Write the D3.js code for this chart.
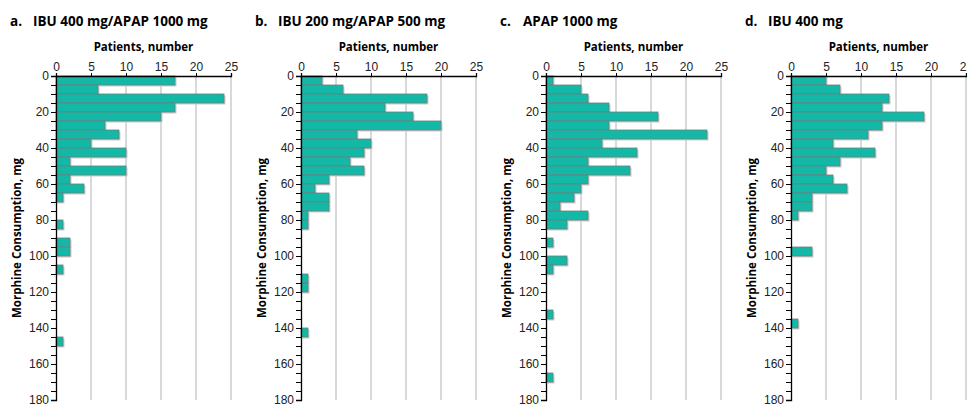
<!DOCTYPE html>
<html>
<head>
<meta charset="utf-8">
<script src="https://cdn.jsdelivr.net/npm/d3@7"></script>
<style>
  body { margin: 0; background: #fff; }
  svg { display: block; font-family: "Open Sans", "Noto Sans", sans-serif; }
</style>
</head>
<body>
<div id="chart"></div>
<script>
// bins of 5 mg, from 0 to 180 mg
const binStarts = d3.range(0, 180, 5);
const panelLetters = ["a.", "b.", "c.", "d."];
const panelTitles = ["IBU 400 mg/APAP 1000 mg", "IBU 200 mg/APAP 500 mg", "APAP 1000 mg", "IBU 400 mg"];
const xTicks = [0, 5, 10, 15, 20, 25];
const yTicks = d3.range(0, 181, 5);

// patients per 5 mg bin
const countsA = [17,6,24,17,15,7,9,5,10,2,10,2,4,1,0,0,1,0,2,2,0,1,0,0,0,0,0,0,0,1,0,0,0,0,0,0];
const countsB = [3,6,18,12,16,20,8,10,9,7,9,4,2,4,4,1,1,0,0,0,0,0,1,1,0,0,0,0,1,0,0,0,0,0,0,0];
const countsC = [1,5,6,9,16,9,23,8,13,6,12,6,5,4,2,6,3,0,1,0,3,1,0,0,0,0,1,0,0,0,0,0,0,1,0,0];
const countsD = [5,7,14,13,19,13,11,6,12,7,5,6,8,3,3,1,0,0,0,3,0,0,0,0,0,0,0,1,0,0,0,0,0,0,0,0];
const allCounts = [countsA, countsB, countsC, countsD];

const W = 967, H = 406;
const panelW = 245;
const margin = {top: 76, left: 56};
const plotW = 175, plotH = 324;

const svg = d3.select("#chart").append("svg")
    .attr("width", W)
    .attr("height", H);

const x = d3.scaleLinear().domain([0, 25]).range([0, plotW]);
const y = d3.scaleLinear().domain([0, 180]).range([0, plotH]);

allCounts.forEach((counts, p) => {
    const panel = svg.append("g")
        .attr("transform", "translate(" + (p * panelW) + ",0)");

    // title
    panel.append("text")
        .attr("x", 10).attr("y", 26)
        .style("font-size", "13.5px").style("font-weight", "bold")
        .text(panelLetters[p]);
    panel.append("text")
        .attr("x", 33).attr("y", 26)
        .style("font-size", "13.5px").style("font-weight", "bold")
        .text(panelTitles[p]);

    const g = panel.append("g")
        .attr("transform", "translate(" + margin.left + "," + margin.top + ")");

    // gridlines
    g.selectAll(".grid")
        .data(xTicks.slice(1))
        .join("line")
        .attr("x1", d => x(d)).attr("x2", d => x(d))
        .attr("y1", 0).attr("y2", plotH)
        .attr("stroke", "#aeb3b6").attr("stroke-width", 1);

    const data = binStarts.map((s, i) => ({start: s, n: counts[i]})).filter(d => d.n > 0);

    // shadow
    g.selectAll(".shadow")
        .data(data)
        .join("rect")
        .attr("x", 1.5)
        .attr("y", d => y(d.start) + 1.5)
        .attr("width", d => x(d.n))
        .attr("height", y(5))
        .attr("fill", "#c9cdcd");

    g.selectAll(".bar")
        .data(data)
        .join("rect")
        .attr("x", 0)
        .attr("y", d => y(d.start))
        .attr("width", d => x(d.n))
        .attr("height", y(5))
        .attr("fill", "#13b8a7")
        .attr("stroke", "#6b7f7c")
        .attr("stroke-width", 0.8);

    // x axis (top)
    const xAxis = g.append("g")
        .call(d3.axisTop(x).tickValues(xTicks).tickSize(3).tickPadding(2));
    xAxis.select(".domain").attr("stroke", "#000").attr("stroke-width", 1.3);
    xAxis.selectAll("text").style("font-size", "12px").attr("fill", "#222");

    // y axis (left)
    const yAxis = g.append("g")
        .call(d3.axisLeft(y).tickValues(yTicks).tickSize(5).tickPadding(2)
            .tickFormat(d => d % 20 === 0 ? d : ""));
    yAxis.select(".domain").attr("stroke", "#000").attr("stroke-width", 1.3);
    yAxis.selectAll("text").style("font-size", "12px").attr("fill", "#222");

    g.append("text")
        .attr("x", plotW / 2).attr("y", -25)
        .attr("text-anchor", "middle")
        .style("font-size", "11.5px").style("font-weight", "bold")
        .text("Patients, number");

    g.append("text")
        .attr("transform", "translate(-35," + (plotH / 2) + ") rotate(-90)")
        .attr("text-anchor", "middle")
        .style("font-size", "11.5px").style("font-weight", "bold")
        .text("Morphine Consumption, mg");
});
</script>
</body>
</html>
